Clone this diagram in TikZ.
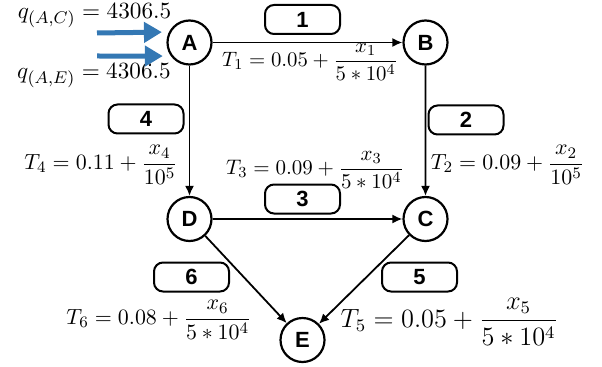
\documentclass[tikz,border=0pt]{standalone}
\usepackage{amsmath}
\usepackage{fontspec}
\newfontfamily\labelfont{Liberation Sans}
\usetikzlibrary{arrows.meta}
\definecolor{flowblue}{RGB}{52,120,180}
\begin{document}
\begin{tikzpicture}[scale=0.17573,
    city/.style={draw, circle, line width=1.1pt, minimum size=22pt, inner sep=0pt,
      font=\labelfont\bfseries\fontsize{11}{12}\selectfont},
    linkbox/.style={draw, rounded corners=4.5pt, line width=1pt, minimum width=37.5pt,
      minimum height=14.5pt, inner sep=0pt, font=\labelfont\bfseries\fontsize{11}{12}\selectfont},
    cost/.style={inner sep=0pt, font=\fontsize{10.95}{13}\selectfont},
    link/.style={-{Latex[length=5pt,width=4.5pt]}, line width=0.9pt},
    inflow/.style={-{Triangle[length=9pt,width=10pt]}, line width=2.5pt, flowblue}]
        \useasboundingbox (0,0) rectangle (60.2,-36.6);
        % cities
        \node[city] (A) at (18.95,-4.25) {A};
        \node[city] (B) at (42.55,-4.25) {B};
        \node[city] (D) at (18.95,-21.9) {D};
        \node[city] (C) at (42.55,-21.9) {C};
        \node[city] (E) at (30.25,-34.0) {E};
        % links
        \draw[link] (A) -- (B);
        \draw[link] (B) -- (C);
        \draw[link] (D) -- (C);
        \draw[link] (A) -- (D);
        \draw[link] (C) -- (E);
        \draw[link] (D) -- (E);
        % link numbers
        \node[linkbox] (l1) at (30.25,-1.95) {1};
        \node[linkbox] (l2) at (46.6,-12.0) {2};
        \node[linkbox] (l3) at (30.25,-19.9) {3};
        \node[linkbox] (l4) at (14.6,-11.9) {4};
        \node[linkbox] (l5) at (41.95,-27.7) {5};
        \node[linkbox] (l6) at (19.15,-27.7) {6};
        % travel times
        \node[cost] (t1) at (31.0,-6.2) {\scalebox{0.95}{$T_1 = 0.05 + \dfrac{x_1}{5*10^4}$}};
        \node[cost] (t2) at (50.75,-16.5) {$T_2 = 0.09 + \dfrac{x_2}{10^5}$};
        \node[cost] (t3) at (31.5,-17.0) {\scalebox{0.96}{$T_3 = 0.09 + \dfrac{x_3}{5*10^4}$}};
        \node[cost] (t4) at (10.1,-16.5) {$T_4 = 0.11 + \dfrac{x_4}{10^5}$};
        \node[cost, font=\fontsize{12}{14}\selectfont] (t5) at (44.95,-32.2) {\scalebox{1.1}{$T_5 = 0.05 + \dfrac{x_5}{5*10^4}$}};
        \node[cost] (t6) at (15.9,-32.0) {$T_6 = 0.08 + \dfrac{x_6}{5*10^4}$};
        % demand at A
        \node[cost] (qac) at (9.45,-1.6) {\scalebox{1.06}{$q_{(A,C)} = 4306.5$}};
        \node[cost] (qae) at (9.4,-7.6) {\scalebox{1.06}{$q_{(A,E)} = 4306.5$}};
        \coordinate (inac) at (9.7,-3.3);
        \coordinate (inae) at (9.7,-5.6);
        \draw[inflow, shorten >=3.5pt] (inac) -- (A.153);
        \draw[inflow, shorten >=4pt] (inae) -- (A.216);
\end{tikzpicture}
\end{document}
